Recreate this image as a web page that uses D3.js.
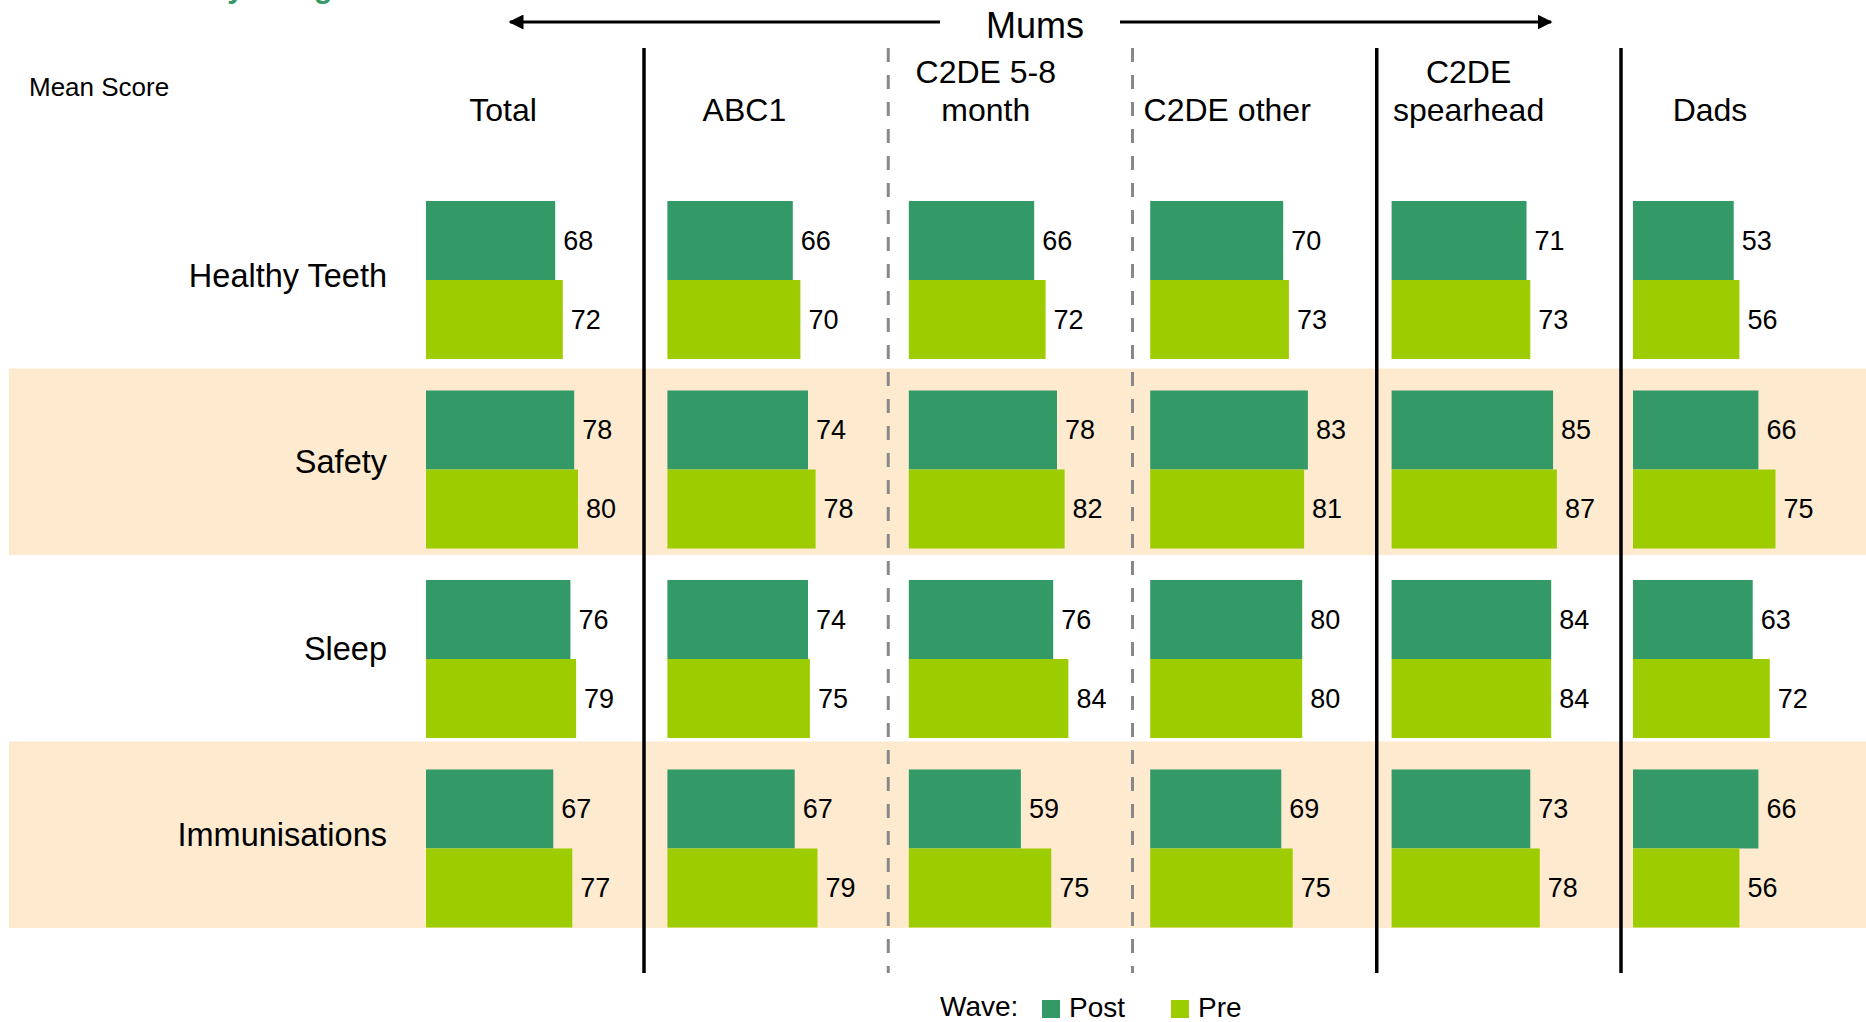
<!DOCTYPE html>
<html>
<head>
<meta charset="utf-8">
<script src="https://cdn.jsdelivr.net/npm/d3@7"></script>
<style>
  body { margin: 0; background: #fff; }
  svg { display: block; font-family: "Liberation Sans", Arial, sans-serif; }
</style>
</head>
<body>
<script>
// data
var groups = ["Total", "ABC1", "C2DE 5-8 month", "C2DE other", "C2DE spearhead", "Dads"];
var groupLabels = [["Total"], ["ABC1"], ["C2DE 5-8", "month"], ["C2DE other"], ["C2DE", "spearhead"], ["Dads"]];
var categories = ["Healthy Teeth", "Safety", "Sleep", "Immunisations"];
var waves = ["Post", "Pre"];

// one array per group, values in category order
var postValues = [
  [68, 78, 76, 67],
  [66, 74, 74, 67],
  [66, 78, 76, 59],
  [70, 83, 80, 69],
  [71, 85, 84, 73],
  [53, 66, 63, 66]
];
var preValues = [
  [72, 80, 79, 77],
  [70, 78, 75, 79],
  [72, 82, 84, 75],
  [73, 81, 80, 75],
  [73, 87, 84, 78],
  [56, 75, 72, 56]
];

var width = 1866, height = 1022;
var colors = { Post: "#339966", Pre: "#9dcc00" };

var svg = d3.select("body").append("svg")
    .attr("width", width)
    .attr("height", height);

// scales
var xGroup = d3.scaleBand().domain(groups).range([426, 426 + 6 * 241.4]);
var xVal = d3.scaleLinear().domain([0, 100]).range([0, 190]);
var yRow = d3.scaleBand().domain(categories).range([201, 927.5]).paddingInner(0.166);
var yWave = d3.scaleBand().domain(waves).range([0, yRow.bandwidth()]);
var yStripe = d3.scaleBand().domain(categories).range([182, 928]);
var xSep = d3.scaleLinear().domain([0, groups.length - 2]).range([644, 1621]);

// cut-off title at the very top
svg.append("text")
    .attr("x", 154)
    .attr("y", -2)
    .attr("font-size", 30)
    .attr("font-weight", "bold")
    .attr("fill", "#339966")
    .text("Safety and growth");

// stripes behind every other row
svg.append("g")
    .selectAll("rect")
    .data(categories.filter(function(d, i) { return i % 2 === 1; }))
    .enter()
    .append("rect")
    .attr("x", 9)
    .attr("y", function(d) { return yStripe(d); })
    .attr("width", width - 9)
    .attr("height", yStripe.bandwidth())
    .attr("fill", "#feebcf");

// separators between the groups
var sepStyle = ["solid", "dashed", "dashed", "solid", "solid"];
svg.append("g")
    .selectAll("line")
    .data(d3.range(groups.length - 1))
    .enter()
    .append("line")
    .attr("x1", function(d) { return xSep(d); })
    .attr("x2", function(d) { return xSep(d); })
    .attr("y1", 48)
    .attr("y2", 973)
    .attr("stroke", function(d) { return sepStyle[d] === "solid" ? "#000" : "#888"; })
    .attr("stroke-width", function(d) { return sepStyle[d] === "solid" ? 3.5 : 3; })
    .attr("stroke-dasharray", function(d) { return sepStyle[d] === "solid" ? null : "14,13"; });

// "Mums" arrows
svg.append("defs").append("marker")
    .attr("id", "head")
    .attr("viewBox", "0 0 10 10")
    .attr("refX", 9)
    .attr("refY", 5)
    .attr("markerWidth", 5)
    .attr("markerHeight", 5)
    .attr("markerUnits", "strokeWidth")
    .attr("orient", "auto")
    .append("path")
    .attr("d", "M0,0 L10,5 L0,10 Z")
    .attr("fill", "#000");

svg.append("line")
    .attr("x1", 940).attr("x2", 510)
    .attr("y1", 22).attr("y2", 22)
    .attr("stroke", "#000").attr("stroke-width", 3)
    .attr("marker-end", "url(#head)");
svg.append("line")
    .attr("x1", 1120).attr("x2", 1551)
    .attr("y1", 22).attr("y2", 22)
    .attr("stroke", "#000").attr("stroke-width", 3)
    .attr("marker-end", "url(#head)");
svg.append("text")
    .attr("x", 1035)
    .attr("y", 38)
    .attr("text-anchor", "middle")
    .attr("font-size", 36)
    .text("Mums");

svg.append("text")
    .attr("x", 29)
    .attr("y", 96)
    .attr("font-size", 26)
    .text("Mean Score");

// group headers
var head = svg.append("g")
    .selectAll("text")
    .data(groups)
    .enter()
    .append("text")
    .attr("x", function(d) { return xGroup(d) + 77; })
    .attr("text-anchor", "middle")
    .attr("font-size", 32);
head.each(function(d, i) {
    var lines = groupLabels[i];
    d3.select(this).selectAll("tspan")
        .data(lines)
        .enter()
        .append("tspan")
        .attr("x", xGroup(d) + 77)
        .attr("y", function(l, j) { return 121 - (lines.length - 1 - j) * 38; })
        .text(function(l) { return l; });
});

// row labels
svg.append("g")
    .selectAll("text")
    .data(categories)
    .enter()
    .append("text")
    .attr("x", 387)
    .attr("y", function(d) { return yStripe(d) + yStripe.bandwidth() / 2; })
    .attr("dy", "0.35em")
    .attr("text-anchor", "end")
    .attr("font-size", 32.5)
    .text(function(d) { return d; });

// bars
var rows = [];
groups.forEach(function(g, gi) {
    categories.forEach(function(c, ci) {
        rows.push({ group: g, cat: c, wave: "Post", value: postValues[gi][ci] });
        rows.push({ group: g, cat: c, wave: "Pre", value: preValues[gi][ci] });
    });
});

var bar = svg.append("g")
    .selectAll("g")
    .data(rows)
    .enter()
    .append("g")
    .attr("transform", function(d) {
        return "translate(" + xGroup(d.group) + "," + (yRow(d.cat) + yWave(d.wave)) + ")";
    });
bar.append("rect")
    .attr("width", function(d) { return xVal(d.value); })
    .attr("height", yWave.bandwidth())
    .attr("fill", function(d) { return colors[d.wave]; });
bar.append("text")
    .attr("x", function(d) { return xVal(d.value) + 8; })
    .attr("y", yWave.bandwidth() / 2)
    .attr("dy", "0.35em")
    .attr("font-size", 27)
    .text(function(d) { return d.value; });

// legend
var legend = svg.append("g");
legend.append("text")
    .attr("x", 940).attr("y", 1016)
    .attr("font-size", 28)
    .text("Wave:");
var legX = { Post: 1042, Pre: 1171 };
var item = legend.selectAll("g")
    .data(waves)
    .enter()
    .append("g");
item.append("rect")
    .attr("x", function(d) { return legX[d]; })
    .attr("y", 1000)
    .attr("width", 18).attr("height", 18)
    .attr("fill", function(d) { return colors[d]; });
item.append("text")
    .attr("x", function(d) { return legX[d] + 27; })
    .attr("y", 1017)
    .attr("font-size", 28)
    .text(function(d) { return d; });
</script>
</body>
</html>
